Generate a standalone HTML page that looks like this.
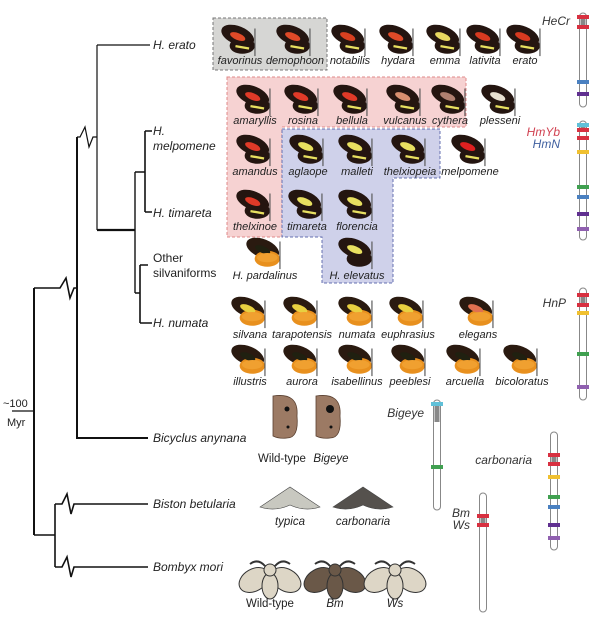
<!DOCTYPE html>
<html><head><meta charset="utf-8">
<style>
html,body{margin:0;padding:0;background:#fff;}
svg{display:block;font-family:"Liberation Sans",sans-serif;}
.it{font-style:italic;}
</style></head>
<body>
<svg id="fig" width="600" height="618" viewBox="0 0 600 618" xmlns="http://www.w3.org/2000/svg">
<rect x="213" y="18" width="114" height="52" fill="#d6d6d4" stroke="#777" stroke-dasharray="3,2"/>
<polygon points="227,77 466,77 466,127 282,127 282,237 227,237" fill="#f6d2d2" stroke="#e08a8a" stroke-dasharray="3,2"/>
<polygon points="282,129 440,129 440,178 393,178 393,283 322,283 322,237 282,237" fill="#cfd1ea" stroke="#6670b0" stroke-dasharray="3,2"/>

<g stroke="#111" fill="none" stroke-width="1.6">
<path d="M34,288 V535" stroke-width="2"/>
<path d="M12,411 H34" stroke-width="1.2"/>
<path d="M34,288 H60 L66,278 L70,298 L74,288 H77" />
<path d="M77,137 V438 H148" stroke-width="2"/>
<path d="M77,137 H80 L85,127 L89,147 L93,137 H97" stroke-width="1.2"/>
<path d="M97,45 V230 M97,45 H150" stroke-width="1.2"/>
<path d="M97,230 H135" stroke-width="2.2"/>
<path d="M135,172 V293" stroke-width="1.4"/>
<path d="M135,172 H145 M145,131 V212 M145,131 H152 M145,212 H152"/>
<path d="M135,293 H140 M140,265 V323 M140,265 H148 M140,323 H152"/>
<path d="M34,535 H55 M55,504 V567" stroke-width="1.6"/>
<path d="M55,504 H62 L67,494 L71,514 L74,504 H148"/>
<path d="M55,567 H62 L67,557 L71,577 L74,567 H148"/>
</g>

<g font-size="12" fill="#222">
<text x="153" y="49" class="it">H. erato</text>
<text x="153" y="135" class="it">H.</text>
<text x="153" y="150" class="it">melpomene</text>
<text x="153" y="217" class="it">H. timareta</text>
<text x="153" y="262">Other</text>
<text x="153" y="277">silvaniforms</text>
<text x="153" y="327" class="it">H. numata</text>
<text x="153" y="442" class="it">Bicyclus anynana</text>
<text x="153" y="508" class="it">Biston betularia</text>
<text x="153" y="571" class="it">Bombyx mori</text>
<text x="3" y="407" font-size="11">~100</text>
<text x="7" y="426" font-size="11">Myr</text>
</g>
<g id="bflies"></g>
<g id="chroms"></g>
</svg>
<script>
const names=["favorinus","demophoon","notabilis","hydara","emma","lativita","erato",
"amaryllis","rosina","bellula","vulcanus","cythera","plesseni",
"amandus","aglaope","malleti","thelxiopeia","melpomene",
"thelxinoe","timareta","florencia",
"H. pardalinus","H. elevatus",
"silvana","tarapotensis","numata","euphrasius","elegans",
"illustris","aurora","isabellinus","peeblesi","arcuella","bicoloratus"];
const bx=[240,295,350,398,445,485,525, 255,303,352,405,450,500, 255,308,357,410,470, 255,307,357, 265,357, 250,302,357,408,478, 250,302,357,410,465,522];
const by=[40,40,40,40,40,40,40, 100,100,100,100,100,100, 150,150,150,150,150, 205,205,205, 253,253, 312,312,312,312,312, 360,360,360,360,360,360];
const ly=[64,64,64,64,64,64,64, 124,124,124,124,124,124, 175,175,175,175,175, 230,230,230, 279,279, 338,338,338,338,338, 385,385,385,385,385,385];
const patch=["#e04a28","#e04a28","#d84020","#e04a28","#e8d860","#d83a20","#d83a20",
"#e03a28","#e03a28","#e03a28","#d89070","#b08070","#e8e0d0",
"#e03a28","#e8e060","#e8e060","#e8e060","#e02020",
"#e03a28","#e8e060","#e8e060","#202010","#e8e060",
"#e8d040","#e8d040","#e8d040","#e8d040","#e07050","#202010","#202010","#202010","#202010","#202010","#202010"];
const ns="http://www.w3.org/2000/svg";
const g=document.getElementById('bflies');
function mk(t,a,p){const e=document.createElementNS(ns,t);for(const k in a)e.setAttribute(k,a[k]);(p||g).appendChild(e);return e;}
for(let i=0;i<names.length;i++){
  const x=bx[i],y=by[i];
  const orange=i>=21 && i!==22;
  const base=orange?"#e8901e":"#241510";
  const bg=mk('g',{transform:`translate(${x} ${y}) scale(1.15) translate(${-x} ${-y})`});
  
  
  mk('ellipse',{cx:x-2,cy:y-4,rx:15,ry:8,transform:`rotate(22 ${x-2} ${y-4})`,fill:orange?"#2a1a10":base},bg);
  mk('ellipse',{cx:x+2,cy:y+5,rx:11,ry:7,fill:base},bg);
  mk('ellipse',{cx:x-2,cy:y-3,rx:7,ry:3,transform:`rotate(22 ${x-2} ${y-3})`,fill:patch[i]},bg);
  if(orange) mk('ellipse',{cx:x+2,cy:y+4,rx:9,ry:4,fill:"#f0a030"},bg);
  else if(i<21) mk('rect',{x:x-4,y:y+5,width:12,height:2,fill:"#e8e060",transform:`rotate(10 ${x} ${y+6})`},bg);
  mk('line',{x1:x+13,y1:y-10,x2:x+13,y2:y+14,stroke:"#555","stroke-width":1},bg);
  const t=mk('text',{x:x,y:ly[i],"text-anchor":"middle","font-size":11,"font-style":"italic",fill:"#222"});
  t.textContent=names[i];
  
  
}
function brown(x,y,big,nm){const e=mk('g',{});
 mk('path',{d:`M${x-12},${y-22} Q${x+14},${y-26} ${x+12},${y-2} Q${x+14},${y+20} ${x+2},${y+20} Q${x-6},${y+21} ${x-12},${y+18} Z`,fill:"#9c7a64",stroke:"#5a4030","stroke-width":0.8},e);
 mk('circle',{cx:x+2,cy:y-9,r:big?4:2.5,fill:"#111"},e);mk('circle',{cx:x+3,cy:y+9,r:1.5,fill:"#111"},e);}
brown(285,418,false,'bicyclus-wild-type');brown(328,418,true,'bicyclus-bigeye');
function moth(x,y,c,nm){const e=mk('g',{});
 mk('path',{d:`M${x},${y-13} L${x-30},${y+7} Q${x-15},${y+12} ${x},${y+5} Q${x+15},${y+12} ${x+30},${y+7} Z`,fill:c,stroke:"#444","stroke-width":0.6},e);}
moth(290,500,"#c8c8c0",'biston-typica');moth(363,500,"#55514d",'biston-carbonaria');
function bomb(x,y,c,nm){const e=mk('g',{});
 const s={fill:c,stroke:"#333","stroke-width":1};
 mk('ellipse',Object.assign({cx:x-16,cy:y,rx:16,ry:11,transform:`rotate(-30 ${x-16} ${y})`},s),e);
 mk('ellipse',Object.assign({cx:x+16,cy:y,rx:16,ry:11,transform:`rotate(30 ${x+16} ${y})`},s),e);
 mk('ellipse',Object.assign({cx:x,cy:y+6,rx:8,ry:13},s),e);
 mk('circle',Object.assign({cx:x,cy:y-10,r:6},s),e);
 mk('path',{d:`M${x-5},${y-14} Q${x-12},${y-22} ${x-20},${y-16} M${x+5},${y-14} Q${x+12},${y-22} ${x+20},${y-16}`,fill:"none",stroke:"#333","stroke-width":2},e);}
bomb(270,580,"#ddd6c6",'bombyx-wild-type');bomb(335,580,"#6a5848",'bombyx-bm');bomb(395,580,"#ddd6c6",'bombyx-ws');
const others=[["Wild-type",282,462,false],["Bigeye",331,462,true],["typica",290,525,true],["carbonaria",363,525,true],["Wild-type",270,607,false],["Bm",335,607,true],["Ws",395,607,true]];
others.forEach(o=>{const t=mk('text',{x:o[1],y:o[2],"text-anchor":"middle","font-size":11.5,fill:"#222"});if(o[3])t.setAttribute('font-style','italic');t.textContent=o[0];
 
 });
const cg=document.getElementById('chroms');
const chrX=[583,583,583,437,483,554];
const chrTop=[13,121,288,400,493,432];
const chrBot=[107,240,400,510,612,550];
const chrLab=[["HeCr"],["HmYb","HmN"],["HnP"],["Bigeye"],["Bm","Ws"],["carbonaria"]];
const labCol=[["#333"],["#d04050","#4060a0"],["#333"],["#333"],["#333","#333"],["#333"]];
const labY=[25,136,307,417,517,464];
const labX=[570,560,566,424,470,532];
const bandY=[[17,27,82,94],[125,130,138,152,187,197,214,229],[295,305,313,354,387],[404,467],[516,525],[455,464,477,497,507,525,538]];
const bandC=[["#d83040","#d83040","#4a80c0","#603090"],["#60c0d8","#d83040","#d83040","#f0c030","#40a050","#4a80c0","#603090","#9060b0"],["#d83040","#d83040","#f0c030","#40a050","#9060b0"],["#60c0d8","#40a050"],["#d83040","#d83040"],["#d83040","#d83040","#f0c030","#40a050","#4a80c0","#603090","#9060b0"]];
for(let i=0;i<chrX.length;i++){
 const x=chrX[i];
 const c=mk('rect',{x:x-3.5,y:chrTop[i],width:7,height:chrBot[i]-chrTop[i],rx:3.5,fill:"#fff",stroke:"#888","stroke-width":1},cg);
 
 
 const b0=bandY[i][0],b1=bandY[i][1];
 mk('rect',{x:x-2.5,y:Math.min(b0,b1),width:5,height:i===3?18:Math.abs(b1-b0),fill:"#888"},cg);
 for(let j=0;j<bandY[i].length;j++){
  const b=mk('rect',{x:x-6,y:bandY[i][j]-2,width:12,height:4,fill:bandC[i][j]},cg);
  
  
 }
 chrLab[i].forEach((s,k)=>{const t=mk('text',{x:labX[i],y:labY[i]+k*12,"text-anchor":"end","font-size":12,"font-style":"italic",fill:labCol[i][k]},cg);t.textContent=s;
  
  });
}
</script>
</body></html>
